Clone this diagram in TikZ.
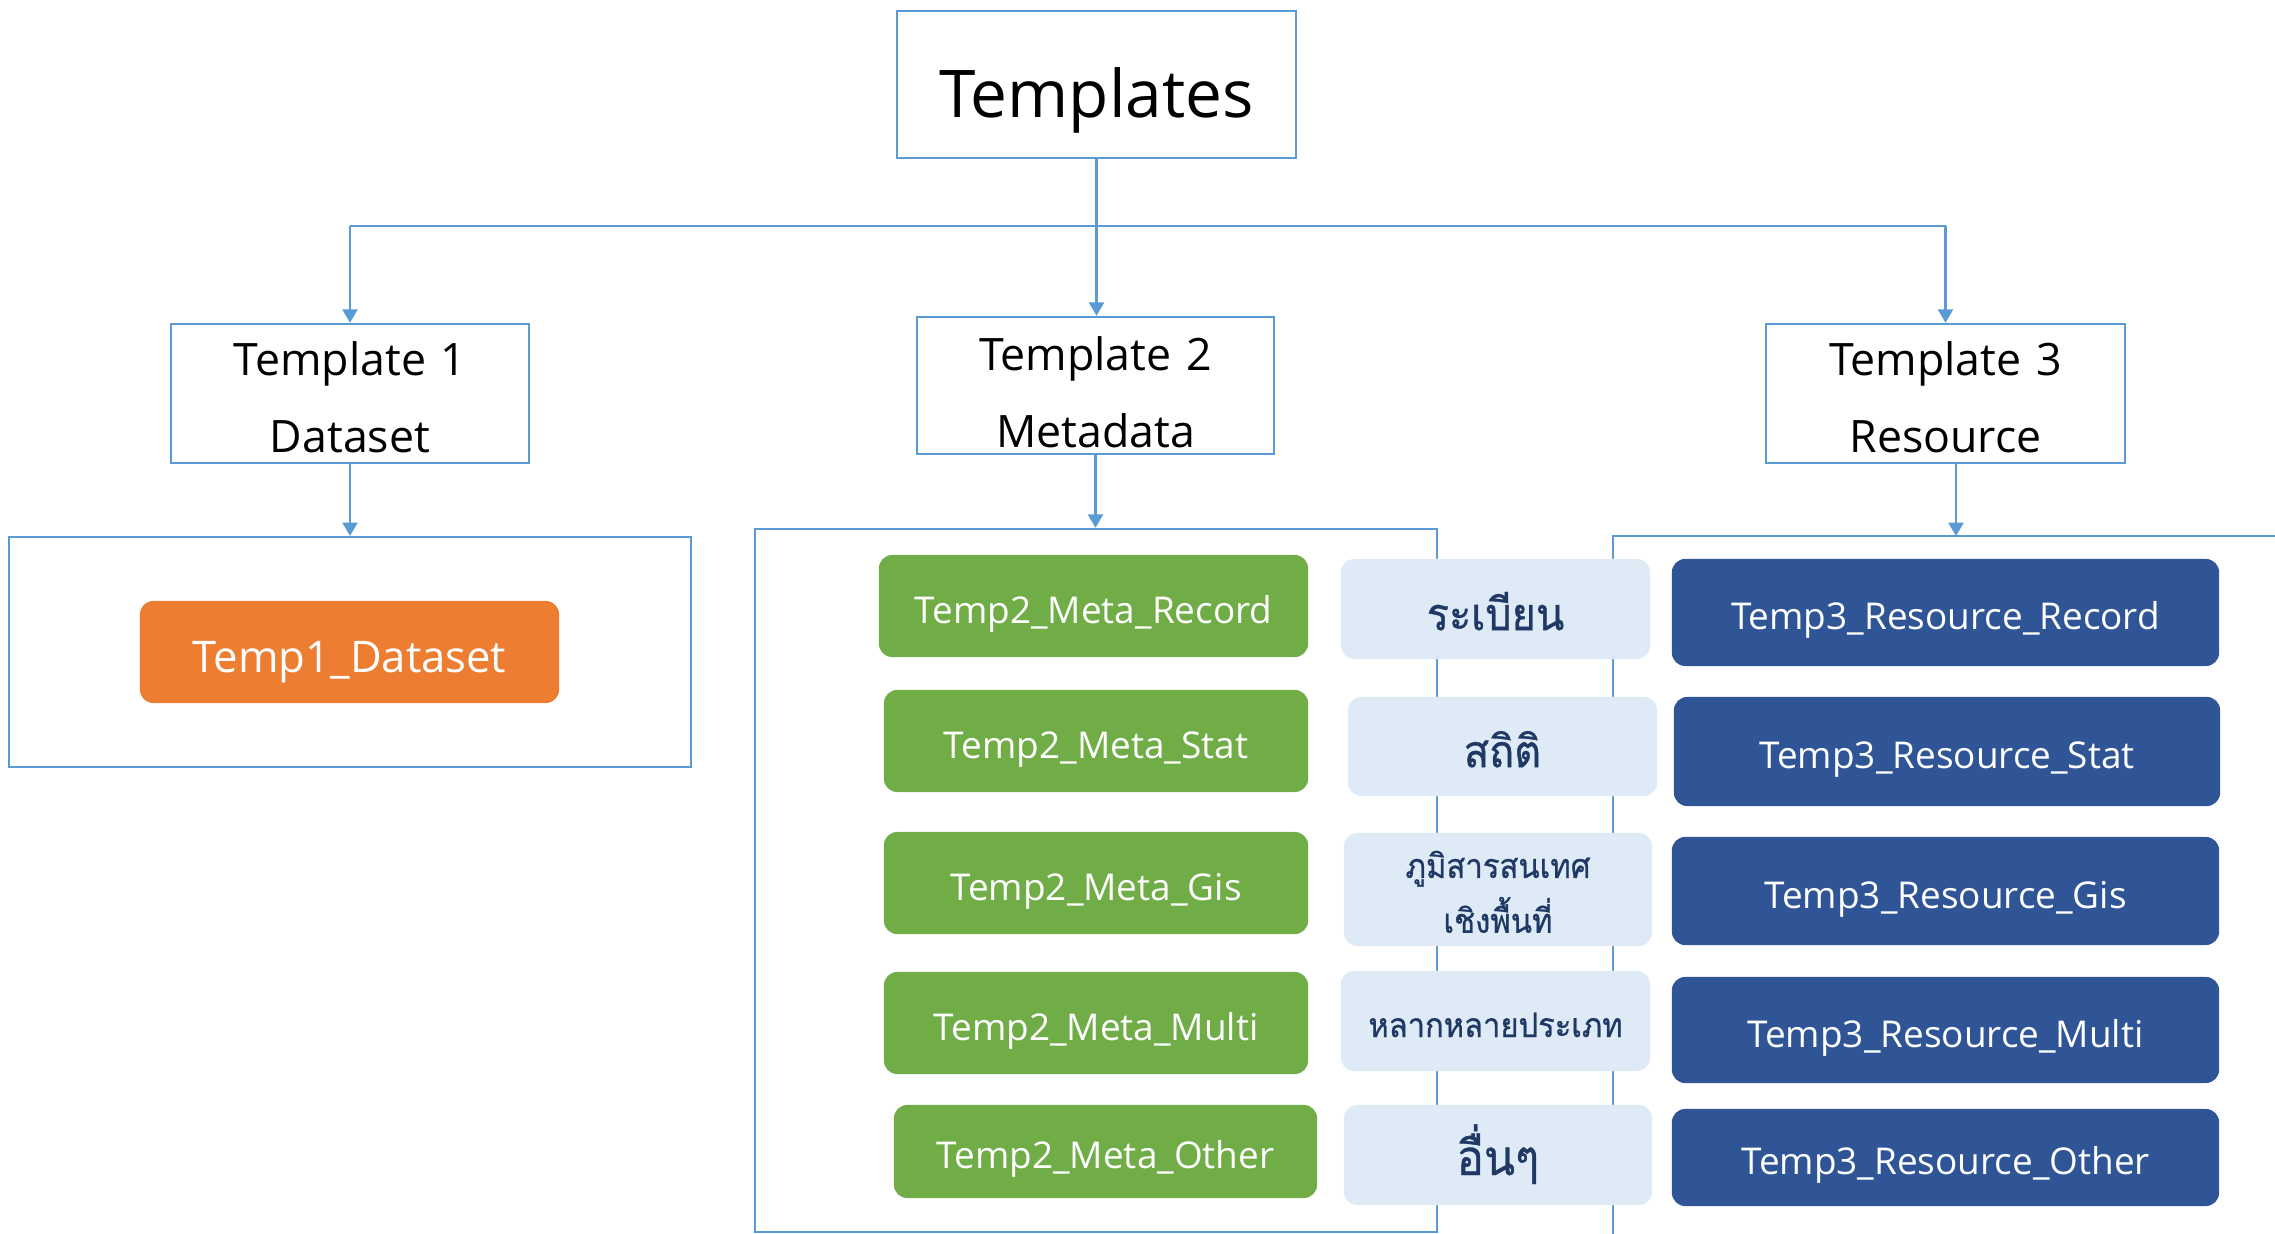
\documentclass[tikz,border=0pt]{standalone}
\usepackage{fontspec}
\setmainfont{Open Sans}
\newfontfamily\thaifont[Script=Thai, FakeStretch=0.92, FakeBold=0.8]{Loma}
\usetikzlibrary{arrows.meta}
\definecolor{lineblue}{HTML}{5B9BD5}
\definecolor{orangefill}{HTML}{ED7D31}
\definecolor{greenfill}{HTML}{70AD47}
\definecolor{bluefill}{HTML}{2F5597}
\definecolor{lightfill}{HTML}{DEEBF7}
\definecolor{thaitext}{HTML}{203864}
\tikzset{
  tbox/.style={rectangle, draw=lineblue, line width=0.7pt, inner sep=0pt},
  twoline/.style={text width=3.4cm, align=center,
    font=\fontsize{12.7}{21.9}\selectfont},
  outerbox/.style={rectangle, draw=lineblue, line width=0.6pt, inner sep=0pt},
  outerline/.style={draw=lineblue, line width=0.6pt},
  conn/.style={draw=lineblue, line width=0.5pt},
  arr/.style={draw=lineblue, line width=0.6pt, -{Triangle[width=4.3pt,length=3.8pt]}},
  colbox/.style={rectangle, rounded corners=3.8pt, inner sep=0pt, text=white,
    font=\fontsize{10.5}{12}\selectfont, text height=11pt, text depth=1.3pt},
  orangestyle/.style={colbox, fill=orangefill, font=\fontsize{12.4}{14}\selectfont,
    text height=12.7pt, text depth=1.3pt},
  greenstyle/.style={colbox, fill=greenfill},
  bluestyle/.style={colbox, fill=bluefill},
  lightstyle/.style={rectangle, rounded corners=3.8pt, inner sep=0pt, fill=lightfill,
    text=thaitext},
}
\begin{document}
\begin{tikzpicture}[x=0.01cm, y=-0.01cm]
\useasboundingbox (0,0) rectangle (2275,1234);

% top level
\node[tbox, minimum width=3.99cm, minimum height=1.47cm,
  font=\fontsize{18.7}{22}\selectfont, text height=23pt, text depth=4.5pt]
  (top) at (1096.5,84.5) {Templates};

\node[tbox, twoline, minimum width=3.58cm, minimum height=1.39cm,
  text height=10pt, text depth=20pt] (t1) at (350,393.5) {Template 1\\Dataset};
\node[tbox, twoline, minimum width=3.57cm, minimum height=1.37cm,
  text height=10.5pt, text depth=19.3pt] (t2) at (1095.5,385.5) {Template 2\\Metadata};
\node[tbox, twoline, minimum width=3.59cm, minimum height=1.39cm,
  text height=10pt, text depth=20pt] (t3) at (1945.5,393.5) {Template 3\\Resource};

% connectors from the top
\coordinate (jn) at (1097,226);
\draw[arr] (top.south) -- (top.south |- t2.north);
\draw[conn] (t1.north |- jn) -- (t3.north |- jn);
\draw[arr] (t1.north |- jn) -- (t1.north);
\draw[arr] (t3.north |- jn) -- (t3.north);

% outer containers
\node[outerbox, minimum width=6.82cm, minimum height=2.30cm] (o1) at (350,652) {};
\node[outerbox, minimum width=6.82cm, minimum height=7.03cm] (o2) at (1096,880.5) {};
\coordinate (o3bl) at (1613,1260);
\coordinate (o3tl) at (1613,536);
\coordinate (o3tr) at (2300,536);
\draw[outerline] (o3bl) -- (o3tl) -- (o3tr);
\coordinate (o3in) at (1956,536);

\draw[arr] (t1.south) -- (o1.north);
\draw[arr] (t2.south) -- (t2.south |- o2.north);
\draw[arr] (o3in |- t3.south) -- (o3in);

% template 1 content
\node[orangestyle, minimum width=4.19cm, minimum height=1.02cm] (d1) at (349.5,652) {Temp1\_Dataset};

% template 2 content
\node[greenstyle, minimum width=4.29cm, minimum height=1.02cm] (g1) at (1093.5,606) {Temp2\_Meta\_Record};
\node[greenstyle, minimum width=4.24cm, minimum height=1.02cm] (g2) at (1096,741) {Temp2\_Meta\_Stat};
\node[greenstyle, minimum width=4.24cm, minimum height=1.02cm] (g3) at (1096,883) {Temp2\_Meta\_Gis};
\node[greenstyle, minimum width=4.24cm, minimum height=1.02cm] (g4) at (1096,1023) {Temp2\_Meta\_Multi};
\node[greenstyle, minimum width=4.23cm, minimum height=0.93cm] (g5) at (1105.5,1151.5) {Temp2\_Meta\_Other};

% category labels
\node[lightstyle, minimum width=3.09cm, minimum height=1.00cm,
  font=\thaifont\fontsize{12.8}{14}\selectfont, text height=13pt, text depth=1pt]
  (l1) at (1495.5,609) {ระเบียน};
\node[lightstyle, minimum width=3.09cm, minimum height=0.99cm,
  font=\thaifont\fontsize{12.8}{14}\selectfont, text height=12.8pt, text depth=1pt]
  (l2) at (1502.5,746.5) {สถิติ};
\node[lightstyle, minimum width=3.08cm, minimum height=1.13cm, text width=3.0cm, align=center,
  font=\thaifont\fontsize{9.6}{15.6}\selectfont, text height=8pt, text depth=14.6pt]
  (l3) at (1498,889.5) {ภูมิสารสนเทศ\\เชิงพื้นที่};
\node[lightstyle, minimum width=3.09cm, minimum height=1.00cm,
  font=\thaifont\fontsize{9.55}{12}\selectfont, text height=10.1pt, text depth=1pt]
  (l4) at (1495.5,1021) {หลากหลายประเภท};
\node[lightstyle, minimum width=3.08cm, minimum height=1.00cm,
  font=\thaifont\fontsize{14}{15}\selectfont, text height=12.4pt, text depth=1pt]
  (l5) at (1498,1155) {อื่นๆ};

% template 3 content
\node[bluestyle, minimum width=5.47cm, minimum height=1.07cm] (b1) at (1945.5,612.5) {Temp3\_Resource\_Record};
\node[bluestyle, minimum width=5.46cm, minimum height=1.09cm] (b2) at (1947,751.5) {Temp3\_Resource\_Stat};
\node[bluestyle, minimum width=5.47cm, minimum height=1.08cm] (b3) at (1945.5,891) {Temp3\_Resource\_Gis};
\node[bluestyle, minimum width=5.47cm, minimum height=1.06cm] (b4) at (1945.5,1030) {Temp3\_Resource\_Multi};
\node[bluestyle, minimum width=5.47cm, minimum height=0.97cm] (b5) at (1945.5,1157.5) {Temp3\_Resource\_Other};
\end{tikzpicture}
\end{document}
